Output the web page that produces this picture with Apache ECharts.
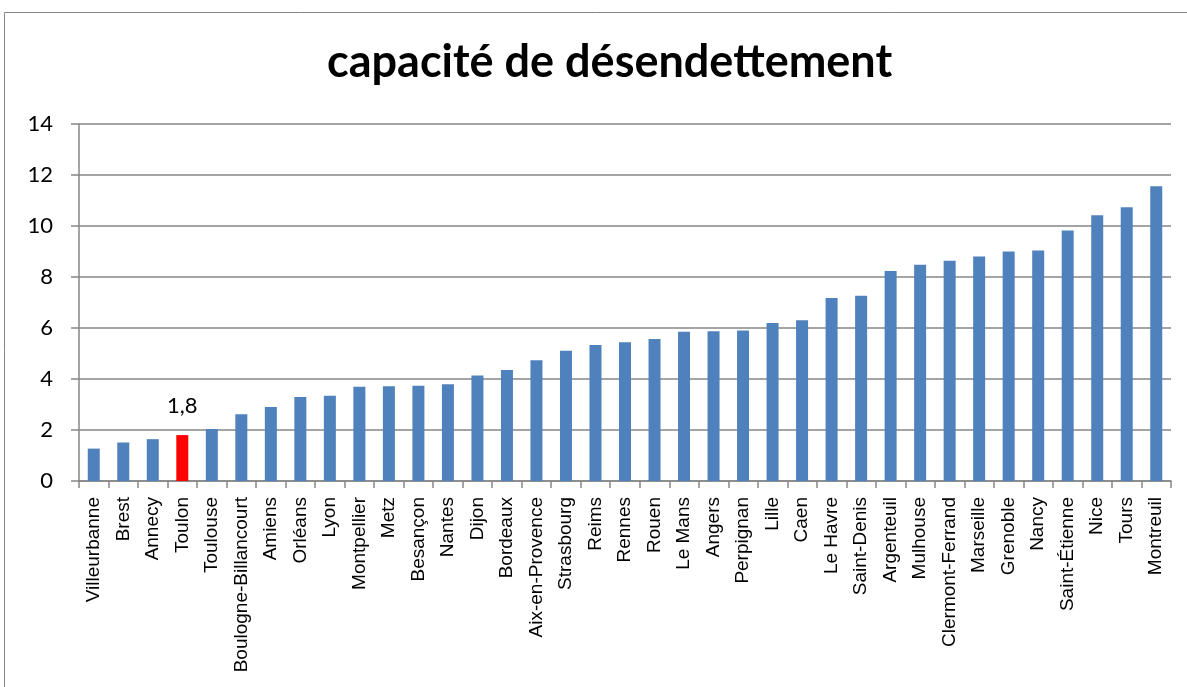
<!DOCTYPE html>
<html>
<head>
<meta charset="utf-8">
<script src="https://cdn.jsdelivr.net/npm/echarts@6/dist/echarts.min.js"></script>
<style>
  html, body { margin: 0; padding: 0; background: #fff; }
  #chart { width: 1187px; height: 687px; }
</style>
</head>
<body>
<div id="chart"></div>
<script>
// Villes classées par capacité de désendettement (années)
const villes = [
  'Villeurbanne', 'Brest', 'Annecy', 'Toulon', 'Toulouse', 'Boulogne-Billancourt',
  'Amiens', 'Orléans', 'Lyon', 'Montpellier', 'Metz', 'Besançon', 'Nantes',
  'Dijon', 'Bordeaux', 'Aix-en-Provence', 'Strasbourg', 'Reims', 'Rennes',
  'Rouen', 'Le Mans', 'Angers', 'Perpignan', 'Lille', 'Caen', 'Le Havre',
  'Saint-Denis', 'Argenteuil', 'Mulhouse', 'Clermont-Ferrand', 'Marseille',
  'Grenoble', 'Nancy', 'Saint-Étienne', 'Nice', 'Tours', 'Montreuil'
];
const capacite = [
  1.27, 1.51, 1.64, 1.8, 2.04, 2.62,
  2.90, 3.29, 3.34, 3.70, 3.72, 3.74, 3.79,
  4.14, 4.35, 4.74, 5.11, 5.33, 5.44,
  5.57, 5.85, 5.87, 5.90, 6.20, 6.30, 7.18,
  7.26, 8.24, 8.48, 8.64, 8.80,
  9.00, 9.04, 9.82, 10.42, 10.74, 11.56
];
// Ville mise en évidence
const villeMiseEnAvant = 'Toulon';
const yMin = 0, yMax = 14, yPas = 2;

const chart = echarts.init(document.getElementById('chart'));

const barData = capacite.map((v, i) => {
  const item = { value: v };
  if (villes[i] === villeMiseEnAvant) {
    item.itemStyle = { color: '#FF0000' };
    item.label = {
      show: true,
      position: 'top',
      distance: 18,
      fontFamily: 'Lato, sans-serif',
      fontSize: 22,
      color: '#000',
      formatter: p => String(p.value).replace('.', ',')
    };
  }
  return item;
});

chart.setOption({
  animation: false,
  backgroundColor: '#fff',
  title: {
    text: 'capacité de désendettement',
    left: 322,
    top: 35,
    textStyle: {
      fontFamily: 'Lato, sans-serif',
      fontWeight: 'bold',
      fontSize: 45,
      color: '#000'
    }
  },
  graphic: [{
    type: 'rect',
    shape: { x: 4.5, y: 12.5, width: 1200, height: 700 },
    style: { fill: 'none', stroke: '#868686', lineWidth: 1 },
    silent: true
  }],
  grid: { left: 79, right: 16, top: 124, bottom: 206 },
  xAxis: {
    type: 'category',
    data: villes,
    axisLine: { lineStyle: { color: '#868686', width: 1.5 } },
    axisTick: { show: true, length: 7, lineStyle: { color: '#868686', width: 1.5 } },
    axisLabel: {
      rotate: 90,
      interval: 0,
      margin: 16,
      fontFamily: '"Liberation Sans", Arial, sans-serif',
      fontSize: 19,
      color: '#000'
    }
  },
  yAxis: {
    type: 'value',
    min: yMin,
    max: yMax,
    interval: yPas,
    axisLine: { show: true, lineStyle: { color: '#868686', width: 1.5 } },
    axisTick: { show: true, inside: false, length: 8, lineStyle: { color: '#868686', width: 1.5 } },
    axisLabel: {
      margin: 26,
      fontFamily: 'Lato, sans-serif',
      fontSize: 22,
      color: '#000'
    },
    splitLine: { lineStyle: { color: '#868686', width: 1.5 } }
  },
  series: [{
    type: 'bar',
    data: barData,
    barWidth: 12,
    itemStyle: { color: '#4F81BD' }
  }]
});
</script>
</body>
</html>
